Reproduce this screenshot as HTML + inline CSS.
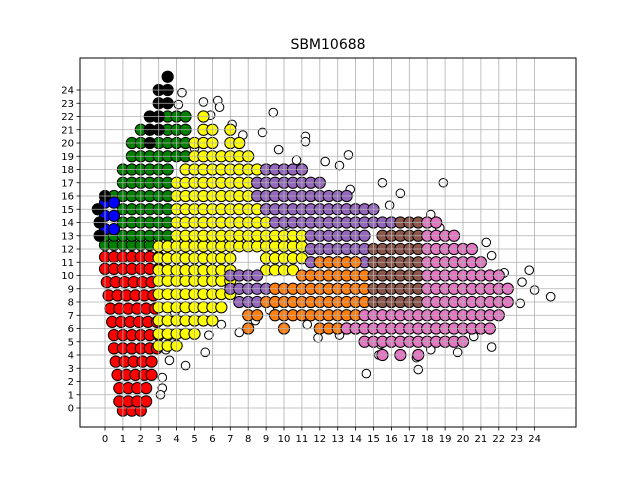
<!DOCTYPE html>
<html><head><meta charset="utf-8"><style>
html,body{margin:0;padding:0;background:#fff;}
svg{display:block;font-family:"DejaVu Sans","Liberation Sans",sans-serif;}
</style></head><body>
<svg id="chart" width="640" height="480" viewBox="0 0 640 480" xmlns="http://www.w3.org/2000/svg">
<rect x="0" y="0" width="640" height="480" fill="#fff"/>
<text x="328" y="49" font-size="14" text-anchor="middle">SBM10688</text>
<g id="points"></g>
<g id="grid"></g>
<g id="axes"></g>
<rect x="80" y="58" width="496" height="369" fill="none" stroke="#000" stroke-width="1"/>
</svg>
<script>
const xTicks = [0,1,2,3,4,5,6,7,8,9,10,11,12,13,14,15,16,17,18,19,20,21,22,23,24];
const yTicks = [0,1,2,3,4,5,6,7,8,9,10,11,12,13,14,15,16,17,18,19,20,21,22,23,24];
const outliers = [[4.3,23.8],[5.5,23.1],[6.3,23.2],[6.4,22.7],[5.9,22.1],[7.1,21.4],[9.4,22.3],[7.7,20.6],[8.8,20.8],[9.7,19.5],[11.2,20.5],[11.2,20.1],[10.7,18.7],[12.3,18.6],[13.6,19.1],[13.1,18.3],[13.7,16.5],[15.5,17],[16.5,16.2],[15.9,15.3],[18.9,17],[18.2,14.6],[18.7,13.6],[21.3,12.5],[21.6,11.5],[22.3,10.2],[23.7,10.4],[23.3,9.5],[24,8.9],[24.9,8.4],[23.2,7.9],[21.5,5.9],[21.6,4.6],[20.6,5.4],[19.7,4.2],[18.2,4.4],[17.4,3.8],[17.5,2.9],[14.6,2.6],[15.3,4],[15.4,4.8],[13.1,5.5],[11.9,5.3],[11.3,6.3],[9.2,7.4],[8.4,6.6],[7.5,5.7],[6.5,6.3],[5.8,5.5],[5.6,4.2],[4.5,3.2],[3.6,3.6],[3.2,2.3],[3.2,1.5],[3.1,1],[2.1,0.5],[3.4,4.4],[3.8,4.9],[3.9,7.2],[4.1,22.9],[2.9,21.9],[2.5,21.1],[5,19.6],[5.5,18],[9.2,12.7],[10.1,13.8]];
const redRows = [[-0.2,[1,1.5,2]],[0.5,[0.8,1.3,1.8,2.3]],[1.5,[0.8,1.3,1.8,2.3]],[2.5,[0.7,1.2,1.7,2.2,2.6]],[3.5,[0.6,1.1,1.6,2.1,2.6]],[4.5,[0.5,1,1.5,2,2.5,2.9]],[5.5,[0.5,1,1.5,2,2.5,3]],[6.5,[0.4,0.9,1.4,1.9,2.4,2.9]],[7.5,[0.3,0.8,1.3,1.8,2.3,2.8]],[8.5,[0.2,0.7,1.2,1.7,2.2,2.7]],[9.5,[0.1,0.6,1.1,1.6,2.1,2.6]],[10.5,[0,0.5,1,1.5,2,2.5,3]],[11.4,[0,0.5,1,1.5,2,2.5,3]]];
const blueRows = [[13.5,[0,0.5]],[14.5,[0,0.5]],[15.5,[0,0.5]]];
const blackRows = [[13,[-0.3]],[14,[-0.3]],[15,[-0.4]],[16,[0]],[20,[2.5]],[21,[2.5,3]],[22,[2.5,3]],[23,[3,3.5]],[24,[3,3.5]],[25,[3.5]]];
const greenRows = [[12.3,[0,0.5,1,1.5,2,2.5]],[13,[0,0.5,1,1.5,2,2.5,3,3.5]],[14,[1,1.5,2,2.5,3,3.5]],[15,[1,1.5,2,2.5,3,3.5]],[16,[0.5,1,1.5,2,2.5,3,3.5]],[17,[1,1.5,2,2.5,3,3.5]],[18,[1,1.5,2,2.5,3,3.5]],[19,[1.5,2,2.5,3,3.5,4,4.5]],[20,[1.5,2,3,3.5,4,4.5]],[21,[2,3.5,4,4.5]],[22,[3,3.5,4,4.5]]];
const yellowRows = [[4.7,[3,3.5,4]],[5.6,[3,3.5,4,4.5,5]],[6.6,[3,3.5,4,4.5,5,5.5,6]],[7.6,[3,3.5,4,4.5,5,5.5,6,6.5]],[8.6,[3,3.5,4,4.5,5,5.5,6,6.5,7]],[9.6,[3,3.5,4,4.5,5,5.5,6,6.5,7]],[10.4,[3,3.5,4,4.5,5,5.5,6,6.5,7,9,9.5,10,10.5]],[11.3,[3,3.5,4,4.5,5,5.5,6,6.5,7,9,9.5,10,10.5,11]],[12.2,[3,3.5,4,4.5,5,5.5,6,6.5,7,7.5,8,8.5,9,9.5,10,10.5,11]],[13,[4,4.5,5,5.5,6,6.5,7,7.5,8,8.5,9,9.5,10,10.5,11]],[14,[4,4.5,5,5.5,6,6.5,7,7.5,8,8.5,9]],[15,[4,4.5,5,5.5,6,6.5,7,7.5,8,8.5,9]],[16,[4,4.5,5,5.5,6,6.5,7,7.5,8,8.5,9]],[17,[4,4.5,5,5.5,6,6.5,7,7.5,8,8.5]],[18,[4.5,5,5.5,6,6.5,7,7.5,8,8.5,11]],[19,[5,5.5,6,6.5,7,7.5,8]],[20,[5,5.5,6,7,7.5]],[21,[5.5,6,7]],[22,[5.5]]];
const purpleRows = [[8,[7.5,8,8.5,9.5]],[9,[7,7.5,8,8.5,9]],[10,[7,7.5,8,8.5]],[11,[11.5,12,12.5,13,13.5,14,14.5]],[12,[11.5,12,12.5,13,13.5,14,14.5]],[13,[11.5,12,12.5,13,13.5,14,14.5]],[14,[9.5,10,10.5,11,11.5,12,12.5,13,13.5,14,14.5,15,15.5,16]],[15,[9,9.5,10,10.5,11,11.5,12,12.5,13,13.5,14,14.5,15]],[16,[8.5,9,9.5,10,10.5,11,11.5,12,12.5,13,13.5]],[17,[8.5,9,9.5,10,10.5,11,11.5,12]],[18,[9,9.5,10,10.5,11]]];
const orangeRows = [[6,[8,10,12,12.5,13,13.5,14]],[7,[8,8.5,9.5,10,10.5,11,11.5,12,12.5,13,13.5,14]],[8,[9,9.5,10,10.5,11,11.5,12,12.5,13,13.5,14,14.5]],[9,[9.5,10,10.5,11,11.5,12,12.5,13,13.5,14,14.5]],[10,[11,11.5,12,12.5,13,13.5,14,14.5]],[11,[12,12.5,13,13.5,14]]];
const brownRows = [[8,[15,15.5,16,16.5,17,17.5]],[9,[15,15.5,16,16.5,17,17.5]],[10,[15,15.5,16,16.5,17,17.5]],[11,[15,15.5,16,16.5,17,17.5]],[12,[15,15.5,16,16.5,17,17.5]],[13,[15.5,16,16.5,17,17.5]],[14,[16.5,17,17.5]]];
const pinkRows = [[4,[15.5,16.5,17.5]],[5,[14.5,15,15.5,16,16.5,17,17.5,18,18.5,19,19.5,20]],[6,[13.5,14,14.5,15,15.5,16,16.5,17,17.5,18,18.5,19,19.5,20,20.5,21,21.5]],[7,[14.5,15,15.5,16,16.5,17,17.5,18,18.5,19,19.5,20,20.5,21,21.5,22]],[8,[18,18.5,19,19.5,20,20.5,21,21.5,22,22.5]],[9,[18,18.5,19,19.5,20,20.5,21,21.5,22,22.5]],[10,[18,18.5,19,19.5,20,20.5,21,21.5,22]],[11,[18,18.5,19,19.5,20,20.5,21]],[12,[18,18.5,19,19.5,20,20.5]],[13,[18,18.5,19,19.5]],[14,[18,18.5]]];

const NS='http://www.w3.org/2000/svg';
const L=80,T=58,R=576,B=427;
function xs(v){return 105+17.9*v;}
function ys(v){return 408-13.25*v;}
const pts=document.getElementById('points');
function dot(x,y,fill,name,r){
  const c=document.createElementNS(NS,'circle');
  c.setAttribute('cx',xs(x));c.setAttribute('cy',ys(y));c.setAttribute('r',r);
  c.setAttribute('fill',fill);c.setAttribute('stroke','#000');c.setAttribute('stroke-width','1');
  
  
  pts.appendChild(c);
}
function drawRows(rows,fill,name){rows.forEach(r=>r[1].forEach(x=>dot(x,r[0],fill,name,5.6)));}
outliers.forEach(p=>dot(p[0],p[1],'#ffffff','outlier-point',4.3));
drawRows(redRows,'#ff0000','red-point');
drawRows(greenRows,'#008000','green-point');
drawRows(yellowRows,'#ffff00','yellow-point');
drawRows(purpleRows,'#9467bd','purple-point');
drawRows(orangeRows,'#ff7f0e','orange-point');
drawRows(brownRows,'#8c564b','brown-point');
drawRows(pinkRows,'#e377c2','pink-point');
drawRows(blueRows,'#0000ff','blue-point');
drawRows(blackRows,'#000000','black-point');

const grid=document.getElementById('grid'),axes=document.getElementById('axes');
function line(g,x1,y1,x2,y2,col,w,name){
  const l=document.createElementNS(NS,'line');
  l.setAttribute('x1',x1);l.setAttribute('y1',y1);l.setAttribute('x2',x2);l.setAttribute('y2',y2);
  l.setAttribute('stroke',col);l.setAttribute('stroke-width',w);
  
  
  g.appendChild(l);
}
function label(x,y,txt,anchor,name){
  const t=document.createElementNS(NS,'text');
  t.setAttribute('x',x);t.setAttribute('y',y);t.setAttribute('font-size','10');t.setAttribute('text-anchor',anchor);
  t.textContent=txt;
  
  
  axes.appendChild(t);
}
xTicks.forEach(v=>{const x=xs(v);line(grid,x,T,x,B,'#b0b0b0',0.8,'x-gridline');line(axes,x,B,x,B+3.5,'#000',0.8,'x-tick');label(x,B+15,String(v),'middle','x-tick-label');});
yTicks.forEach(v=>{const y=ys(v);line(grid,L,y,R,y,'#b0b0b0',0.8,'y-gridline');line(axes,L-3.5,y,L,y,'#000',0.8,'y-tick');label(L-6,y+3.5,String(v),'end','y-tick-label');});
</script>
</body></html>
